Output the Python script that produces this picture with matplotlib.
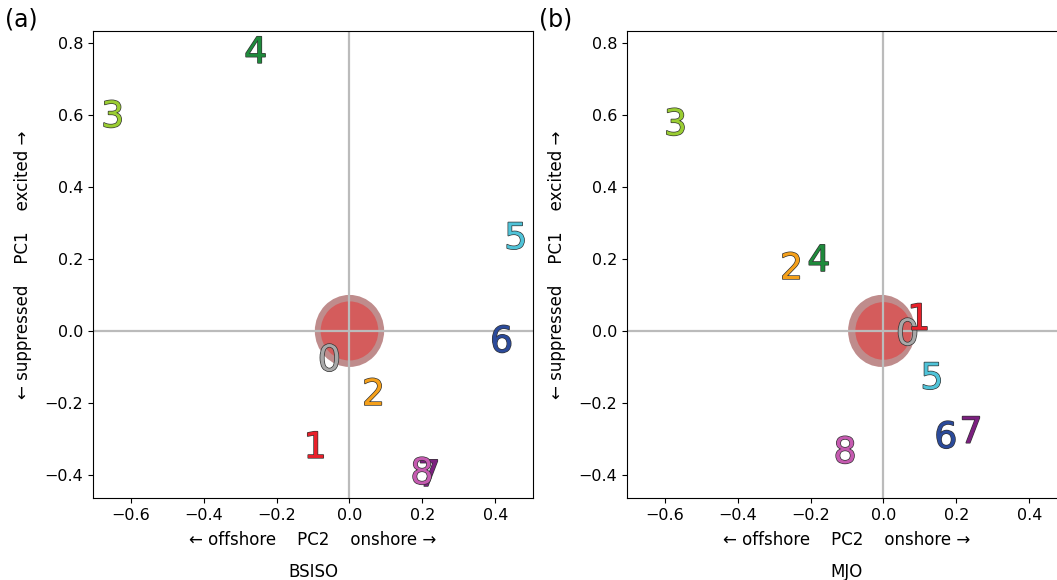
import numpy as np
import matplotlib.pyplot as plt
import matplotlib.patheffects as pe
from matplotlib.patches import Ellipse

# phase labels and their (PC2, PC1) positions
phases = ['0', '1', '2', '3', '4', '5', '6', '7', '8']
bsiso_pc2 = [-0.055, -0.094, 0.066, -0.649, -0.257, 0.456, 0.417, 0.218, 0.199]
bsiso_pc1 = [-0.083, -0.325, -0.178, 0.594, 0.772, 0.256, -0.031, -0.403, -0.397]
mjo_pc2 = [0.066, 0.097, -0.252, -0.57, -0.177, 0.133, 0.171, 0.24, -0.105]
mjo_pc1 = [-0.011, 0.031, 0.172, 0.572, 0.194, -0.133, -0.297, -0.283, -0.339]

phase_colors = ['#a8a8a8', '#e8202a', '#f5a01a', '#9acd32', '#1f8a3c',
                '#4fc3d8', '#2b4a9a', '#7b1f7f', '#c55ab0']

# significance region (centre x, centre y, radius x, radius y) outer / inner
bsiso_blob = [(0.0, 0.0, 0.095, 0.10), (0.0, 0.0, 0.079, 0.082)]
mjo_blob = [(-0.005, 0.0, 0.092, 0.10), (0.0, 0.0, 0.077, 0.08)]

plt.rcParams['font.size'] = 11.5

fig = plt.figure(figsize=(10.57, 5.80), dpi=100)
ax1 = fig.add_axes([93 / 1057, 82 / 580, 440 / 1057, 467 / 580])
ax2 = fig.add_axes([627 / 1057, 82 / 580, 440 / 1057, 467 / 580])

panels = [(ax1, bsiso_pc2, bsiso_pc1, bsiso_blob, 'BSISO', '(a)'),
          (ax2, mjo_pc2, mjo_pc1, mjo_blob, 'MJO', '(b)')]

for ax, xs, ys, blob, name, tag in panels:
    ax.set_xlim(-0.703, 0.503)
    ax.set_ylim(-0.464, 0.833)
    (cx, cy, rx, ry), (cx2, cy2, rx2, ry2) = blob
    ax.add_patch(Ellipse((cx, cy), 2 * rx, 2 * ry, color='#bf8c8c', lw=0, zorder=1))
    ax.add_patch(Ellipse((cx2, cy2), 2 * rx2, 2 * ry2, color='#d45c5c', lw=0, zorder=1.1))
    ax.axhline(0, color='#bbbbbb', lw=1.6, zorder=2)
    ax.axvline(0, color='#bbbbbb', lw=1.6, zorder=2)
    for p, x, y, c in zip(phases, xs, ys, phase_colors):
        ax.text(x, y, p, color=c, fontsize=26, ha='center', va='center', zorder=3,
                path_effects=[pe.Stroke(linewidth=1.0, foreground='#333333'), pe.Normal()])
    ax.set_xticks([-0.6, -0.4, -0.2, 0.0, 0.2, 0.4])
    ax.set_yticks([-0.4, -0.2, 0.0, 0.2, 0.4, 0.6, 0.8])
    ax.set_xlabel('\u2190 offshore    PC2    onshore \u2192', fontsize=12, labelpad=6)
    ax.set_ylabel('\u2190 suppressed    PC1    excited \u2192', fontsize=12, labelpad=9)
    ax.annotate(name, xy=(0.5, 0), xycoords='axes fraction', xytext=(0, -65),
                textcoords='offset pixels', ha='center', va='top', fontsize=12)
    ax.text(-0.2, 1.025, tag, transform=ax.transAxes, fontsize=17, ha='left', va='center')

fig.savefig('out.png', dpi=100)
